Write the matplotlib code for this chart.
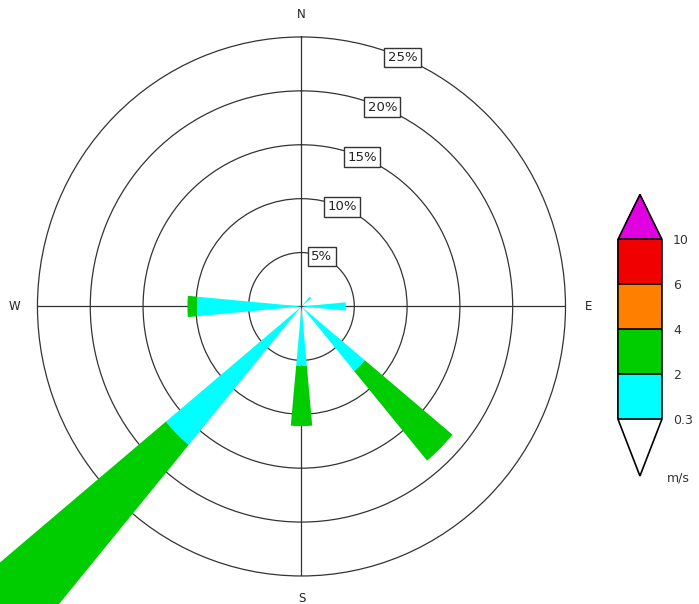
import numpy as np
import matplotlib
matplotlib.use('Agg')
import matplotlib.pyplot as plt
from matplotlib.colors import ListedColormap, BoundaryNorm
from matplotlib.cm import ScalarMappable

# wind direction (deg from north) and frequency (%) per speed class
dir_deg = [45, 90, 135, 180, 225, 270]
freq_03_2 = [1.2, 4.2, 7.8, 5.5, 16.7, 9.9]
freq_2_4 = [0.0, 0.0, 10.8, 5.6, 25.3, 0.9]

rings = [5, 10, 15, 20, 25]
speed_bounds = [0.3, 2, 4, 6, 10]
speed_labels = ['0.3', '2', '4', '6', '10']
class_colors = ['#00FFFF', '#00CD00', '#FF8000', '#F00000']
over_color = '#E000E0'

fig = plt.figure(figsize=(6.99, 6.04), dpi=100)

# polar axes placed so the 25% circle lands where the reference has it
ax = fig.add_axes([0.0536, 0.0464, 0.7554, 0.8924], projection='polar')
ax.set_aspect('auto')
ax.set_theta_zero_location('N')
ax.set_theta_direction(-1)
ax.set_ylim(0, 25)
ax.set_axisbelow(True)

theta = np.deg2rad(dir_deg)
width = np.deg2rad(10.5)
ax.bar(theta, freq_03_2, width=width, bottom=0, color=class_colors[0],
       edgecolor='none', zorder=3, clip_on=False)
ax.bar(theta, freq_2_4, width=width, bottom=freq_03_2, color=class_colors[1],
       edgecolor='none', zorder=3, clip_on=False)

ax.set_yticks(rings[:-1])
ax.set_yticklabels([])
ax.set_xticks(np.deg2rad([0, 90, 180, 270]))
ax.set_xticklabels(['N', 'E', 'S', 'W'])
ax.tick_params(axis='x', pad=6, labelsize=8.5, colors='#222222')
ax.grid(True, color='#333333', linewidth=0.9)
ax.spines['polar'].set_color('#333333')
ax.spines['polar'].set_linewidth(0.9)

for r in rings:
    ax.text(np.deg2rad(22.5), r, f'{r}%', ha='center', va='center',
            fontsize=9.5, color='#222222', zorder=5,
            bbox=dict(boxstyle='square,pad=0.25', fc='white', ec='#333333', lw=1.0))

# speed colour bar
cmap = ListedColormap(class_colors)
cmap.set_over(over_color)
cmap.set_under('white')
norm = BoundaryNorm(speed_bounds, cmap.N)
cax = fig.add_axes([0.884, 0.2119, 0.063, 0.466])
cb = fig.colorbar(ScalarMappable(norm=norm, cmap=cmap), cax=cax, extend='both',
                  extendfrac=[0.317, 0.25], spacing='uniform', drawedges=True,
                  ticks=speed_bounds)
cb.set_ticklabels(speed_labels)
cb.outline.set_linewidth(1.2)
cb.dividers.set_linewidth(1.2)
cb.ax.tick_params(length=0, pad=8, labelsize=9, colors='#333333')
fig.text(0.97, 0.209, 'm/s', ha='center', va='center', fontsize=9, color='#333333')

fig.savefig('out.png', dpi=100)
